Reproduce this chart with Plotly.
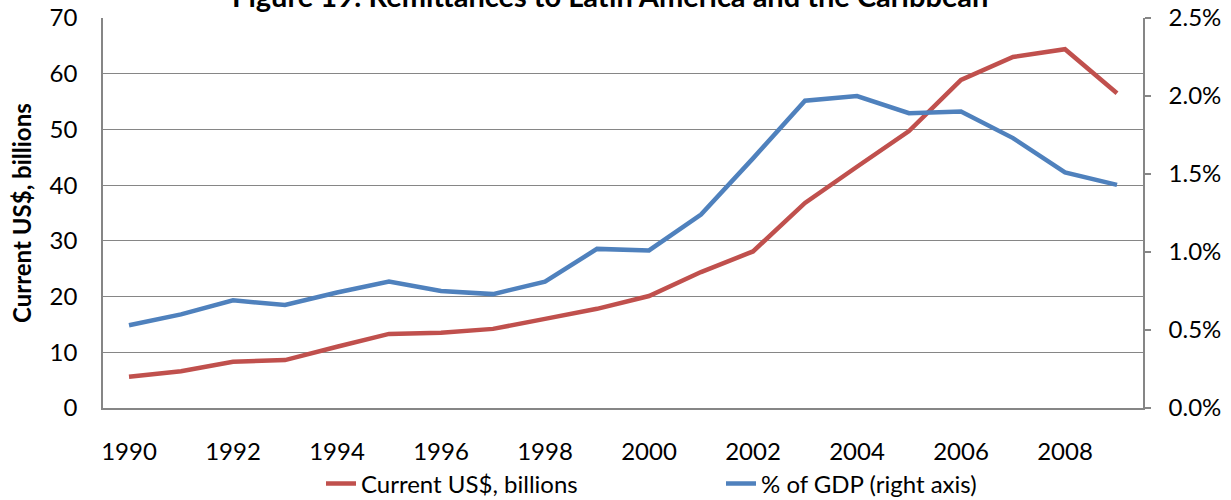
import plotly.graph_objects as go

years = list(range(1990, 2010))
usd_billions = [5.6, 6.6, 8.3, 8.6, 11.0, 13.3, 13.5, 14.2, 16.0, 17.8,
                20.1, 24.4, 28.1, 36.8, 43.3, 49.7, 58.9, 63.0, 64.4, 56.5]
pct_gdp = [0.53, 0.60, 0.69, 0.66, 0.74, 0.81, 0.75, 0.73, 0.81, 1.02,
           1.01, 1.24, 1.60, 1.97, 2.00, 1.89, 1.90, 1.73, 1.51, 1.43]
x_ticks = list(range(1990, 2010, 2))
left_ticks = list(range(0, 80, 10))
right_ticks = [0.0, 0.5, 1.0, 1.5, 2.0, 2.5]
right_tick_labels = ["0.0%", "0.5%", "1.0%", "1.5%", "2.0%", "2.5%"]

RED = "#C0504D"
BLUE = "#4F81BD"
GRID = "#868686"
FONT = "Lato"
FS = 24

fig = go.Figure()
fig.add_trace(go.Scatter(x=years, y=usd_billions, mode="lines",
                         name="Current US$, billions",
                         line=dict(color=RED, width=4.5)))
fig.add_trace(go.Scatter(x=years, y=pct_gdp, mode="lines",
                         name="% of GDP (right axis)", yaxis="y2",
                         line=dict(color=BLUE, width=4.5)))

fig.update_layout(
    width=1231, height=500,
    margin=dict(l=103, r=88, t=18, b=92, autoexpand=False),
    paper_bgcolor="white", plot_bgcolor="white",
    font=dict(family=FONT, size=FS, color="black"),
    xaxis=dict(range=[1989.5, 2009.5], tickvals=x_ticks,
               ticktext=[str(v) for v in x_ticks], automargin=False,
               showgrid=False, zeroline=False, showline=True,
               linecolor=GRID, linewidth=1.5, ticks="",
               ticklabelstandoff=21, tickfont=dict(size=FS)),
    yaxis=dict(range=[0, 70], tickvals=left_ticks, showgrid=True,
               gridcolor=GRID, gridwidth=1.3, zeroline=False, automargin=False,
               showline=True, linecolor=GRID, linewidth=1.5, ticks="",
               ticklabelstandoff=19, tickfont=dict(size=FS)),
    yaxis2=dict(range=[0, 2.5], overlaying="y", side="right",
                tickvals=right_ticks, ticktext=right_tick_labels,
                showgrid=False, zeroline=False, showline=True, automargin=False,
                linecolor=GRID, linewidth=1.5, ticks="outside",
                ticklen=6, tickcolor=GRID, tickwidth=1.5,
                ticklabelstandoff=13, tickfont=dict(size=FS)),
    showlegend=True,
    legend=dict(orientation="h", xref="container", yref="container",
                x=321 / 1231, xanchor="left", y=1 - 484 / 500,
                yanchor="middle", entrywidth=355, entrywidthmode="pixels",
                font=dict(size=FS), bgcolor="rgba(0,0,0,0)"),
)

fig.add_annotation(text="<b>Figure 19: Remittances to Latin America and the Caribbean</b>",
                   xref="paper", yref="paper", x=(610 - 103) / 1040, y=1,
                   xanchor="center", yanchor="bottom", yshift=3,
                   showarrow=False, font=dict(family=FONT, size=29, color="black"))
fig.add_annotation(text="<b>Current US$, billions</b>", textangle=-90,
                   xref="paper", yref="paper", x=(21 - 103) / 1040, y=0.5,
                   xanchor="center", yanchor="middle", showarrow=False,
                   font=dict(family=FONT, size=24, color="black"))

fig.write_html("out.html", config={"displayModeBar": False},
               post_script="document.body.style.margin='0';")
